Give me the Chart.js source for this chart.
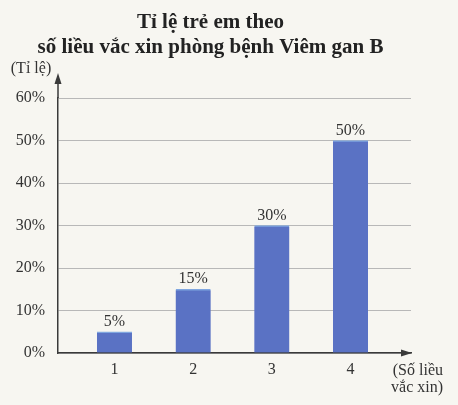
<!DOCTYPE html>
<html>
<head>
<meta charset="utf-8">
<script src="https://cdn.jsdelivr.net/npm/chart.js@4.4.1/dist/chart.umd.min.js"></script>
<style>
  html, body { margin: 0; padding: 0; background: #f7f6f1; }
  #wrap { width: 458px; height: 405px; position: relative; }
</style>
</head>
<body>
<div id="wrap"><canvas id="c" width="458" height="405"></canvas></div>
<script>
const titleLines = ["Tỉ lệ trẻ em theo", "số liều vắc xin phòng bệnh Viêm gan B"];
const yAxisTitle = "(Tỉ lệ)";
const xAxisTitle = ["(Số liều", "vắc xin)"];
const categories = [1, 2, 3, 4];
const percentValues = [5, 15, 30, 50];
const yTickValues = [0, 10, 20, 30, 40, 50, 60];

const serif = "'Liberation Serif', 'Times New Roman', serif";
const textColor = "#333333";

const decorPlugin = {
  id: 'decor',
  beforeDraw(chart) {
    const ctx = chart.ctx;
    ctx.save();
    ctx.fillStyle = '#f7f6f1';
    ctx.fillRect(0, 0, chart.width, chart.height);
    ctx.restore();
  },
  afterDraw(chart) {
    const ctx = chart.ctx;
    const a = chart.chartArea;
    ctx.save();
    ctx.strokeStyle = '#3a3a3a';
    ctx.fillStyle = '#3a3a3a';
    ctx.lineWidth = 1.5;
    // y axis extension + arrow
    ctx.beginPath();
    ctx.moveTo(a.left, a.top);
    ctx.lineTo(a.left, a.top - 18);
    ctx.stroke();
    ctx.beginPath();
    ctx.moveTo(a.left, a.top - 25);
    ctx.lineTo(a.left - 3.5, a.top - 14);
    ctx.lineTo(a.left + 3.5, a.top - 14);
    ctx.closePath();
    ctx.fill();
    // x axis arrow
    ctx.beginPath();
    ctx.moveTo(a.right + 1, a.bottom);
    ctx.lineTo(a.right - 10, a.bottom - 3.5);
    ctx.lineTo(a.right - 10, a.bottom + 3.5);
    ctx.closePath();
    ctx.fill();
    // value labels
    ctx.font = "16px " + serif;
    ctx.fillStyle = textColor;
    ctx.textAlign = 'center';
    ctx.textBaseline = 'alphabetic';
    const meta = chart.getDatasetMeta(0);
    meta.data.forEach((bar, i) => {
      ctx.fillText(percentValues[i] + '%', bar.x, bar.y - 6);
    });
    // axis titles
    ctx.textAlign = 'center';
    ctx.fillText(yAxisTitle, 31, 73);
    ctx.textAlign = 'right';
    ctx.fillText(xAxisTitle[0], 443, 375);
    ctx.fillText(xAxisTitle[1], 443, 392);
    ctx.restore();
  }
};

new Chart(document.getElementById('c'), {
  type: 'bar',
  data: {
    datasets: [{
      data: categories.map((c, i) => ({ x: c, y: percentValues[i] })),
      backgroundColor: '#5a72c4',
      borderColor: '#7fa6e0',
      borderWidth: { top: 1.5, left: 0, right: 0, bottom: 0 },
      borderSkipped: 'bottom',
      barThickness: 35
    }]
  },
  plugins: [decorPlugin],
  options: {
    responsive: false,
    animation: false,
    devicePixelRatio: 1,
    layout: { padding: { left: 10, right: 47, top: 0, bottom: 0 } },
    plugins: {
      legend: { display: false },
      tooltip: { enabled: false },
      title: {
        display: true,
        text: titleLines,
        color: '#222222',
        font: { family: serif, size: 21, weight: 'bold', lineHeight: 1.15 },
        padding: { top: 11, bottom: 38.7 }
      }
    },
    scales: {
      x: {
        type: 'linear',
        offset: false,
        bounds: 'data',
        min: 0.282,
        max: 4.769,
        afterBuildTicks(scale) { scale.ticks = categories.map(v => ({ value: v })); },
        afterFit(scale) { scale.height = 52; },
        grid: { display: false, drawTicks: false, offset: false },
        border: { display: true, color: '#3a3a3a', width: 1.5 },
        ticks: {
          padding: 7,
          includeBounds: false,
          color: textColor,
          font: { family: serif, size: 16 },
          callback: v => String(v)
        }
      },
      y: {
        min: 0,
        max: 60,
        afterBuildTicks(scale) { scale.ticks = yTickValues.map(v => ({ value: v })); },
        afterFit(scale) { scale.width = 48; },
        grid: { color: '#b8b8b8', lineWidth: 1, drawTicks: false },
        border: { display: true, color: '#3a3a3a', width: 1.5 },
        ticks: {
          padding: 13,
          color: textColor,
          font: { family: serif, size: 16 },
          callback: v => v + '%'
        }
      }
    }
  }
});
</script>
</body>
</html>
